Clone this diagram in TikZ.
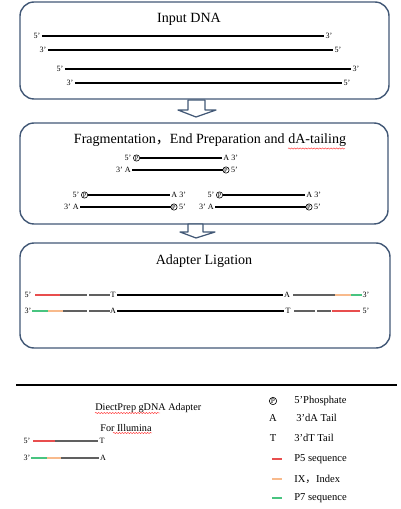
\documentclass[tikz,border=0pt]{standalone}
\usepackage{fontspec}
\setmainfont{Liberation Serif}
\newfontfamily\cjk{Noto Sans CJK SC}
\usepackage{tikz}
\usetikzlibrary{calc,decorations.pathmorphing}
\definecolor{boxblue}{RGB}{66,88,118}
\definecolor{p5col}{RGB}{232,78,78}
\definecolor{ixcol}{RGB}{248,186,140}
\definecolor{p7col}{RGB}{72,196,128}
\definecolor{grcol}{RGB}{96,96,96}

\begin{document}
\begin{tikzpicture}[x=0.02cm,y=-0.02cm,
  stagebox/.style={draw=boxblue,line width=0.8pt,rounded corners=8pt},
  blockarrow/.style={draw=boxblue,line width=0.7pt,fill=white,line join=round},
  title/.style={font=\fontsize{8}{9}\selectfont,inner sep=0pt},
  lab/.style={font=\fontsize{4.6}{5}\selectfont,inner sep=0.6pt},
  phos/.style={circle,draw,line width=0.35pt,inner sep=0pt,minimum size=3.6pt,font=\fontsize{3.6}{4}\selectfont},
  strand/.style={line width=1.1pt},
  thin strand/.style={line width=0.9pt},
  gr/.style={draw=grcol,line width=0.8pt},
  p5/.style={draw=p5col,line width=0.8pt},
  ix/.style={draw=ixcol,line width=0.8pt},
  p7/.style={draw=p7col,line width=0.8pt},
  legtxt/.style={font=\fontsize{6}{7}\selectfont,inner sep=0pt,anchor=west},
  spell/.style={draw=red!80,line width=0.25pt,decorate,decoration={snake,amplitude=0.35pt,segment length=1.6pt}}]
\useasboundingbox (0,0) rectangle (400,509);

% Stage 1: input DNA
\draw[stagebox] (20,2) rectangle (389,99);
\node[title] (t1) at (189,19) {Input DNA};
\foreach \i/\xa/\xb/\y/\la/\lb in {1/37/329/36/5'/3', 2/43/338/50/3'/5', 3/60/356/69/5'/3', 4/70/347/83/3'/5'} {
  \node[lab] (d\i l) at (\xa,\y) {\la};
  \node[lab] (d\i r) at (\xb,\y) {\lb};
  \draw[strand] (d\i l) -- (d\i r);
}

% arrow 1
\draw[blockarrow] (188,100) -- (205,100) -- (205,110) -- (216,110) -- (196,117) -- (178,110) -- (188,110) -- cycle;

% Stage 2: fragmentation, end prep, dA-tailing
\draw[stagebox] (20,123) rectangle (388,224);
\node[title] (t2) at (210,140) {Fragmentation{\cjk ，}End Preparation and dA-tailing};
\draw[spell] (288,148.5) -- (345,148.5);
% three fragments: top, bottom-left, bottom-right
\foreach \f/\x/\y in {a/128/158, b/76/195, c/211/195} {
  \node[lab] (\f5) at (\x,\y) {5'};
  \node[phos,anchor=west] (\f p) at ($(\f5.east)+(0.3,0)$) {P};
  \node[lab,anchor=west] (\f3) at ($(\f p.east)+(82,0)$) {A 3'};
  \node[lab,anchor=east] (\f b3) at ($(\f p.west)+(-1,12)$) {3' A};
  \node[phos,anchor=west] (\f q) at ($(\f3.west)+(0.5,12)$) {P};
  \node[lab,anchor=west] (\f b5) at ($(\f q.east)+(0.3,0)$) {5'};
  \draw[thin strand] (\f p) -- (\f3);
  \draw[thin strand] (\f b3) -- (\f q);
}

% arrow 2
\draw[blockarrow] (188,224) -- (203,224) -- (203,232) -- (215,232) -- (196,238) -- (180,232) -- (188,232) -- cycle;

% Stage 3: adapter ligation
\draw[stagebox] (20,243) rectangle (390,348);
\node[title] (t3) at (204,261) {Adapter Ligation};
% top strand
\node[lab] (u5) at (28,295) {5'};
\node[lab] (uT) at (113,295) {T};
\node[lab] (uA) at (287,295) {A};
\node[lab] (u3) at (366,295) {3'};
\foreach \a/\b/\s in {35/60/p5, 60/87/gr, 89/110/gr, 293/316/gr, 316/335/gr, 335/351/ix, 351/362/p7}
  \draw[\s] (\a,295) -- (\b,295);
\draw[strand] (uT) -- (uA);
% bottom strand
\node[lab] (v3) at (28,311) {3'};
\node[lab] (vA) at (113,311) {A};
\node[lab] (vT) at (288,311) {T};
\node[lab] (v5) at (366,311) {5'};
\foreach \a/\b/\s in {32/48/p7, 48/63/ix, 63/87/gr, 89/110/gr, 294/315/gr, 317/331/gr, 332/360/p5}
  \draw[\s] (\a,311) -- (\b,311);
\draw[strand] (vA) -- (vT);

% separator
\draw[line width=1.2pt] (16,385) -- (397,385);

% adapter
\node[legtxt,font=\fontsize{5.8}{7}\selectfont] (ad1) at (95,408) {DiectPrep gDNA Adapter};
\node[legtxt,font=\fontsize{5.8}{7}\selectfont] (ad2) at (100,428) {For Illumina};
\draw[spell] (95,413) -- (160,413);
\draw[spell] (113,433) -- (152,433);
\node[lab] (w5) at (27,441) {5'};
\node[lab] (wT) at (102,441) {T};
\draw[p5] (33,441) -- (55,441);
\draw[gr] (55,441) -- (wT);
\node[lab] (w3) at (27,458) {3'};
\node[lab] (wA) at (103,458) {A};
\draw[p7] (31,458) -- (47,458);
\draw[ix] (47,458) -- (61,458);
\draw[gr] (61,458) -- (wA);

% legend
\node[phos,minimum size=4.2pt,font=\fontsize{4.2}{5}\selectfont] (kP) at (273,401) {P};
\node[legtxt] (kPt) at (294,401) {5'Phosphate};
\node[font=\fontsize{6}{7}\selectfont,inner sep=0pt] (kA) at (273,418) {A};
\node[legtxt] (kAt) at (296,418) {3'dA Tail};
\node[font=\fontsize{6}{7}\selectfont,inner sep=0pt] (kT) at (273,438) {T};
\node[legtxt] (kTt) at (294,438) {3'dT Tail};
\draw[p5] (272,459) -- (282,459);
\node[legtxt] (k5t) at (294,459) {P5 sequence};
\draw[ix] (272,479) -- (282,479);
\node[legtxt] (kIt) at (294,479) {IX{\cjk ，}Index};
\draw[p7] (272,498) -- (282,498);
\node[legtxt] (k7t) at (294,498) {P7 sequence};
\end{tikzpicture}
\end{document}
